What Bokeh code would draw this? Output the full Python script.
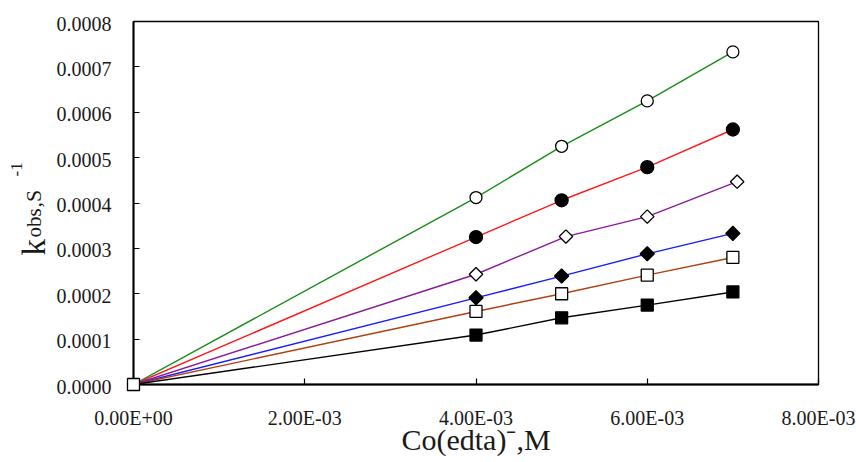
import math

from bokeh.plotting import figure
from bokeh.models import Range1d, FixedTicker
from bokeh.core.properties import value
from bokeh.embed import file_html
from bokeh.resources import INLINE

# Co(edta)- concentration (M) and observed rate constants (s^-1)
conc = [0.004, 0.005, 0.006, 0.007]
conc_purple = [0.004, 0.00505, 0.006, 0.00705]
k_green = [0.000412, 0.000525, 0.000625, 0.000733]
k_red = [0.000325, 0.000406, 0.000479, 0.000562]
k_purple = [0.000243, 0.000326, 0.000370, 0.000447]
k_blue = [0.000191, 0.000239, 0.000288, 0.000333]
k_brown = [0.000161, 0.000200, 0.000241, 0.000280]
k_black = [0.000109, 0.000147, 0.000175, 0.000204]
origin_x = [0.0]
origin_y = [0.0]

x_ticks = [0.0, 0.002, 0.004, 0.006, 0.008]
x_tick_labels = ["0.00E+00", "2.00E-03", "4.00E-03", "6.00E-03", "8.00E-03"]
y_ticks = [0.0, 0.0001, 0.0002, 0.0003, 0.0004, 0.0005, 0.0006, 0.0007, 0.0008]
y_tick_labels = ["0.0000", "0.0001", "0.0002", "0.0003", "0.0004",
                 "0.0005", "0.0006", "0.0007", "0.0008"]
x_title = "Co(edta)\u207b,M"

SERIF = "Liberation Serif, Times New Roman, serif"
TEXT_COLOR = "#1a1a1a"

X_MAX, Y_MAX = 0.008, 0.0008
FRAME_W, FRAME_H = 685, 363

p = figure(width=856, height=462, output_backend="svg", toolbar_location=None,
           x_range=Range1d(0, X_MAX), y_range=Range1d(0, Y_MAX),
           min_border_left=133, min_border_right=38,
           min_border_top=21, min_border_bottom=78)
p.background_fill_color = "white"
p.border_fill_color = "white"
p.outline_line_color = "black"
p.outline_line_width = 1.3
p.xgrid.visible = False
p.ygrid.visible = False

# axis lines and inward ticks; their texts are set below in a serif face
for ax in (p.xaxis[0], p.yaxis[0]):
    ax.axis_line_width = 2
    ax.axis_line_color = "black"
    ax.major_tick_in = 6
    ax.major_tick_out = 0
    ax.major_tick_line_color = "black"
    ax.major_tick_line_width = 1.2
    ax.minor_tick_line_color = None
    ax.major_label_text_color = None

p.xaxis.ticker = FixedTicker(ticks=x_ticks)
p.yaxis.ticker = FixedTicker(ticks=y_ticks)

# one line per series, starting at the origin
series = [
    (conc, k_green, "#1a8c1a", "circle", 0, 12, "white"),
    (conc, k_red, "#ff1a1a", "circle", 0, 13, "black"),
    (conc_purple, k_purple, "#8a1a9a", "square", math.pi / 4, 9.5, "white"),
    (conc, k_blue, "#1a1aff", "square", math.pi / 4, 10, "black"),
    (conc, k_brown, "#b0400e", "square", 0, 12, "white"),
    (conc, k_black, "black", "square", 0, 12, "black"),
]
for xs, ys, color, _, _, _, _ in series:
    p.line(origin_x + xs, origin_y + ys, line_color=color, line_width=1.4)

for xs, ys, _, marker, ang, size, fill in series:
    p.scatter(xs, ys, marker=marker, angle=ang, size=size,
              fill_color=fill, line_color="black", line_width=1.3)

# open square at the origin, drawn above the frame edges
p.scatter(origin_x, origin_y, marker="square", size=12, fill_color="white",
          line_color="black", line_width=1.3, level="overlay")


def off_x(px):
    """pixel offset from the frame's left edge -> data x"""
    return px / FRAME_W * X_MAX


def off_y(py):
    """pixel offset above the frame's bottom edge -> data y"""
    return py / FRAME_H * Y_MAX


def serif_text(xs, ys, texts, size, align="left", angle=0.0):
    p.text(x=xs, y=ys, text=texts, angle=angle,
           text_align=align, text_baseline="alphabetic",
           text_font=value(SERIF), text_font_size=size,
           text_color=TEXT_COLOR, level="overlay")


# tick labels
serif_text(x_ticks, [off_y(-33)] * len(x_ticks), x_tick_labels, "20px",
           align="center")
serif_text([off_x(-22)] * len(y_ticks), [t - off_y(2) for t in y_ticks],
           y_tick_labels, "20px", align="right")

# x-axis title
serif_text([X_MAX / 2], [off_y(-55)], [x_title], "30px", align="center")

# y-axis title k_obs,S^-1, set vertically from pieces of different sizes
ylabel_parts = [
    ("k", -100, 129, "33px"),
    ("obs", -100, 147, "21px"),
    (",S", -100, 177, "22px"),
    ("-1", -117, 208, "17px"),
]
for text, dx, dy, fs in ylabel_parts:
    serif_text([off_x(dx)], [off_y(dy)], [text], fs, angle=math.pi / 2)

open("out.html", "w").write(file_html(p, INLINE))
